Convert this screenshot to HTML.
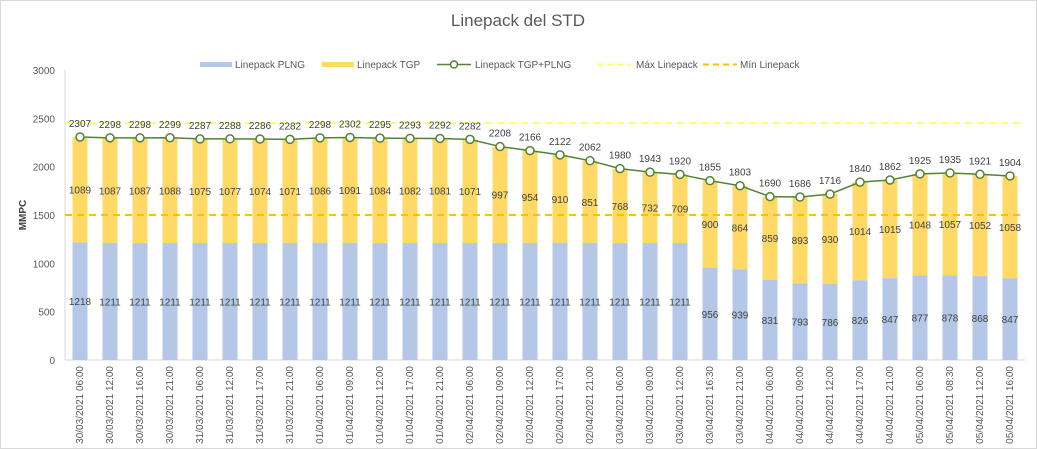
<!DOCTYPE html>
<html><head><meta charset="utf-8"><style>
body{margin:0;background:#fff;}
svg{display:block;font-family:"Liberation Sans",sans-serif;}
</style></head><body>
<svg id="chart" width="1037" height="449">
<rect x="0.5" y="0.5" width="1036" height="448" fill="#fff" stroke="#d9d9d9"/>
<text x="518" y="26" text-anchor="middle" font-size="17" fill="#595959">Linepack del STD</text>
<text x="26" y="215" text-anchor="middle" font-size="10" font-weight="bold" fill="#404040" transform="rotate(-90 26 215)">MMPC</text>
<g id="legend">
<rect x="200" y="62" width="32" height="5" fill="#b4c7e7"/>
<text x="235" y="68" font-size="10" fill="#595959">Linepack PLNG</text>
<rect x="322" y="62" width="32" height="5" fill="#ffd966"/>
<text x="357" y="68" font-size="10" fill="#595959">Linepack TGP</text>
<line x1="437" y1="64.5" x2="471" y2="64.5" stroke="#548235" stroke-width="1.5"/>
<circle cx="454" cy="64.5" r="3.5" fill="#fff" stroke="#548235" stroke-width="1.5"/>
<text x="475" y="68" font-size="10" fill="#595959">Linepack TGP+PLNG</text>
<line x1="597" y1="64.5" x2="631" y2="64.5" stroke="#ffff66" stroke-width="2" stroke-dasharray="6,4"/>
<text x="636" y="68" font-size="10" fill="#595959">Máx Linepack</text>
<line x1="703" y1="64.5" x2="737" y2="64.5" stroke="#ffc000" stroke-width="2" stroke-dasharray="6,4"/>
<text x="740" y="68" font-size="10" fill="#595959">Mín Linepack</text>
</g>
<g id="plot"></g>
</svg>
<script>
const categories=["30/03/2021 06:00","30/03/2021 12:00","30/03/2021 16:00","30/03/2021 21:00","31/03/2021 06:00","31/03/2021 12:00","31/03/2021 17:00","31/03/2021 21:00","01/04/2021 06:00","01/04/2021 09:00","01/04/2021 12:00","01/04/2021 17:00","01/04/2021 21:00","02/04/2021 06:00","02/04/2021 09:00","02/04/2021 12:00","02/04/2021 17:00","02/04/2021 21:00","03/04/2021 06:00","03/04/2021 09:00","03/04/2021 12:00","03/04/2021 16:30","03/04/2021 21:00","04/04/2021 06:00","04/04/2021 09:00","04/04/2021 12:00","04/04/2021 17:00","04/04/2021 21:00","05/04/2021 06:00","05/04/2021 08:30","05/04/2021 12:00","05/04/2021 16:00"];
const plng=[1218,1211,1211,1211,1211,1211,1211,1211,1211,1211,1211,1211,1211,1211,1211,1211,1211,1211,1211,1211,1211,956,939,831,793,786,826,847,877,878,868,847];
const tgp=[1089,1087,1087,1088,1075,1077,1074,1071,1086,1091,1084,1082,1081,1071,997,954,910,851,768,732,709,900,864,859,893,930,1014,1015,1048,1057,1052,1058];
const total=[2307,2298,2298,2299,2287,2288,2286,2282,2298,2302,2295,2293,2292,2282,2208,2166,2122,2062,1980,1943,1920,1855,1803,1690,1686,1716,1840,1862,1925,1935,1921,1904];
const maxLinepack=2450;
const minLinepack=1500;
const yTicks=[0,500,1000,1500,2000,2500,3000];
const NS="http://www.w3.org/2000/svg";
const g=document.getElementById('plot');
const L=65,R=1025,T=70,B=360,YMAX=3000;
const step=(R-L)/categories.length,bw=15;
const y=v=>B-(v/YMAX)*(B-T);
const x=i=>L+step*(i+0.5);
function mk(tag,a,txt){const e=document.createElementNS(NS,tag);for(const k in a)e.setAttribute(k,a[k]);if(txt!==undefined)e.textContent=txt;g.appendChild(e);return e;}
let e=mk('line',{x1:L,y1:T,x2:L,y2:B,stroke:'#d9d9d9'});

e=mk('line',{x1:L,y1:B,x2:R,y2:B,stroke:'#d9d9d9'});

yTicks.forEach(t=>{const el=mk('text',{x:55,y:y(t)+4,'text-anchor':'end','font-size':10,fill:'#595959'},t);
});
categories.forEach((c,i)=>{
 const cx=x(i);
 let r=mk('rect',{x:cx-bw/2,y:y(plng[i]),width:bw,height:B-y(plng[i]),fill:'#b4c7e7'});
 
 r=mk('rect',{x:cx-bw/2,y:y(plng[i]+tgp[i]),width:bw,height:y(plng[i])-y(plng[i]+tgp[i]),fill:'#ffd966'});
 
 let t=mk('text',{x:cx,y:y(plng[i]/2)+4,'text-anchor':'middle','font-size':10,fill:'#404040'},plng[i]);
 
 t=mk('text',{x:cx,y:y(plng[i]+tgp[i]/2)+4,'text-anchor':'middle','font-size':10,fill:'#404040'},tgp[i]);
 
 const lx=cx+3,ly=B+6;
 t=mk('text',{x:lx,y:ly,'text-anchor':'end','font-size':10,fill:'#595959',transform:`rotate(-90 ${lx} ${ly})`},c);
 
});
e=mk('line',{x1:L,y1:y(maxLinepack),x2:R,y2:y(maxLinepack),stroke:'#ffff66','stroke-width':2,'stroke-dasharray':'7,5'});

e=mk('line',{x1:L,y1:y(minLinepack),x2:R,y2:y(minLinepack),stroke:'#ffc000','stroke-width':2,'stroke-dasharray':'7,5'});

e=mk('polyline',{points:total.map((v,i)=>x(i)+','+y(v)).join(' '),fill:'none',stroke:'#548235','stroke-width':1.5});

total.forEach((v,i)=>{
 let c=mk('circle',{cx:x(i),cy:y(v),r:4,fill:'#fff',stroke:'#548235','stroke-width':1.5});
 
 let t=mk('text',{x:x(i),y:y(v)-10,'text-anchor':'middle','font-size':10,fill:'#404040'},v);
 
});
</script>
</body></html>
